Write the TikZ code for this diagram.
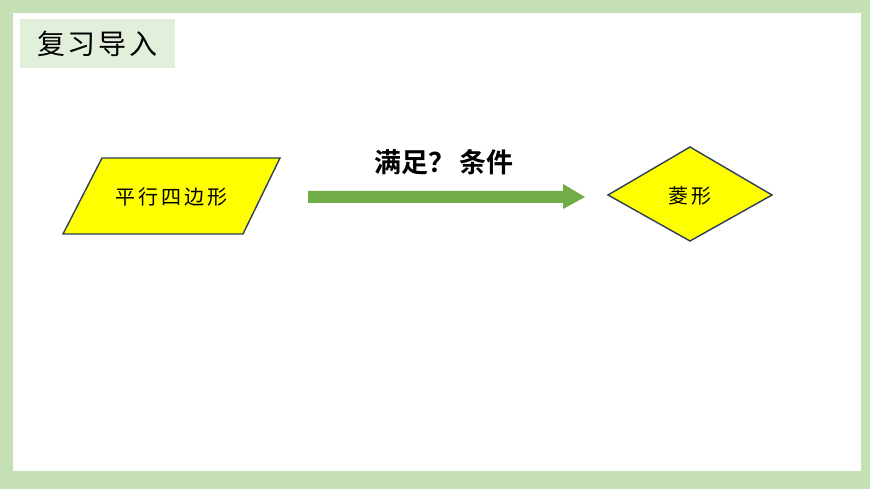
\documentclass[tikz,border=0pt]{standalone}
\usepackage{fontspec}
\newfontfamily\cjk{Noto Sans CJK SC}
\newfontfamily\cjkb{Noto Sans CJK SC Bold}
\definecolor{framegreen}{HTML}{C5E0B4}
\definecolor{titlegreen}{HTML}{E2EFDA}
\definecolor{arrowgreen}{HTML}{70AD47}
\definecolor{shapeedge}{HTML}{2F3E5A}
\definecolor{shapefill}{HTML}{FFFF00}
\tikzset{
  shapebox/.style={fill=shapefill,draw=shapeedge,line width=1.4pt,line join=miter},
  lbl/.style={inner sep=0pt,font=\cjk\fontsize{20}{20}\selectfont},
}
\begin{document}
\begin{tikzpicture}[x=1pt,y=-1pt]
\useasboundingbox (0,0) rectangle (870,489);
\fill[framegreen] (0,0) rectangle (870,489);
\fill[white] (13,13) rectangle (861,471);
% title
\fill[titlegreen] (20,19) rectangle (175,68);
\node[inner sep=0pt,font=\cjk\fontsize{28}{28}\selectfont] (title) at (97.5,44) {复\hspace{3pt}习\hspace{3pt}导\hspace{3pt}入};
% parallelogram
\draw[shapebox] (63,234) -- (102,158) -- (280,158) -- (243,234) -- cycle;
\node[lbl] (para) at (171.5,197) {平\hspace{3pt}行\hspace{3pt}四\hspace{3pt}边\hspace{3pt}形};
% diamond
\draw[shapebox] (608,195) -- (690,147) -- (772,195) -- (690,241) -- cycle;
\node[lbl] (rhombus) at (690,196) {菱\hspace{3pt}形};
% arrow
\coordinate (astart) at (308,197);
\coordinate (aend) at (585,197);
\fill[arrowgreen] (astart) ++(0,-6) -- (563,191) -- (563,184) -- (aend) -- (563,209) -- (563,203) -- (308,203) -- cycle;
\node[inner sep=0pt,font=\cjkb\fontsize{27}{27}\selectfont] (cond) at (444,162) {满足？\hspace{4pt}条件};
\end{tikzpicture}
\end{document}
